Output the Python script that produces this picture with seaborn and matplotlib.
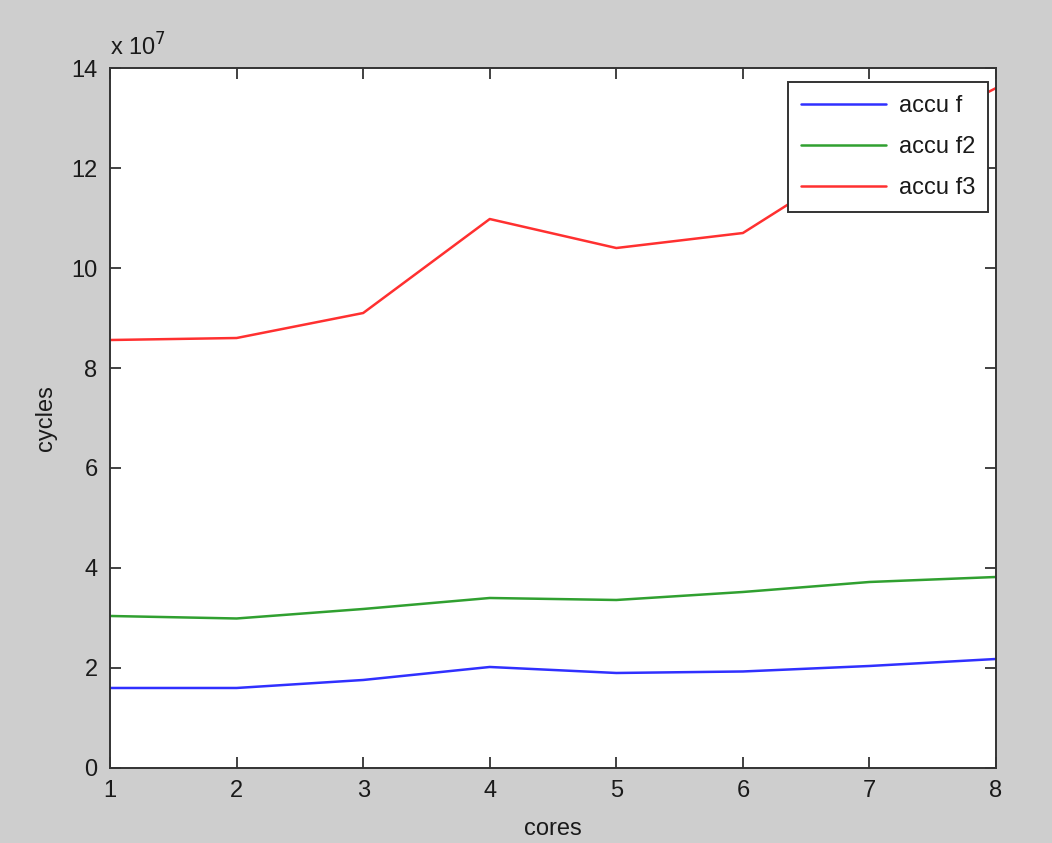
import numpy as np
import pandas as pd
import matplotlib
matplotlib.use("Agg")
import matplotlib.pyplot as plt
import seaborn as sns

cores = [1, 2, 3, 4, 5, 6, 7, 8]
accu_f = [1.60, 1.60, 1.76, 2.02, 1.90, 1.93, 2.04, 2.18]
accu_f2 = [3.04, 2.99, 3.18, 3.40, 3.36, 3.52, 3.72, 3.82]
accu_f3 = [8.56, 8.60, 9.10, 10.98, 10.40, 10.70, 12.30, 13.60]
series_names = ["accu f", "accu f2", "accu f3"]

df = pd.DataFrame({
    "cores": cores * 3,
    "cycles": np.array(accu_f + accu_f2 + accu_f3) * 1e7,
    "serie": [n for n in series_names for _ in cores],
})

sns.set_style("white")
plt.rcParams["font.family"] = ["Liberation Sans", "DejaVu Sans"]
txt = "#1a1a1a"

fig = plt.figure(figsize=(10.52, 8.43), dpi=100, facecolor="#cecece")
ax = fig.add_axes([0.1046, 0.089, 0.8422, 0.8303])

sns.lineplot(data=df, x="cores", y="cycles", hue="serie",
             palette=["#3030ff", "#30a030", "#ff3030"], linewidth=1.8, ax=ax)

ax.set_xlim(1, 8)
ax.set_ylim(0, 14e7)
ax.set_xticks(cores)
ax.set_yticks(np.arange(0, 15e7, 2e7))
ax.set_yticklabels([str(int(v)) for v in np.arange(0, 15, 2)])
ax.tick_params(direction="in", length=8, width=1.3, labelsize=17,
               top=True, right=True, bottom=True, left=True,
               color="#333333", labelcolor=txt)
ax.tick_params(axis="x", pad=9)
ax.tick_params(axis="y", pad=9)
for s in ax.spines.values():
    s.set_visible(True)
    s.set_color("#333333")
    s.set_linewidth(1.4)
ax.set_xlabel("cores", fontsize=17, labelpad=11, color=txt)
ax.set_ylabel("cycles", fontsize=17, labelpad=10, color=txt)
ax.text(0.0, 1.01, r"x 10$^{7}$", transform=ax.transAxes, fontsize=17,
        ha="left", va="bottom", color=txt)

leg = ax.legend(loc="upper right", bbox_to_anchor=(988 / 1052, 1 - 82 / 843),
                bbox_transform=fig.transFigure, borderaxespad=0,
                fontsize=17, frameon=True, fancybox=False, framealpha=1,
                handlelength=3.6, labelspacing=0.8, handletextpad=0.55,
                borderpad=0.55)
leg.get_frame().set_edgecolor("#333333")
leg.get_frame().set_linewidth(1.4)
for t in leg.get_texts():
    t.set_color(txt)
leg.set_title(None)

fig.savefig("out.png", dpi=100, facecolor=fig.get_facecolor())
